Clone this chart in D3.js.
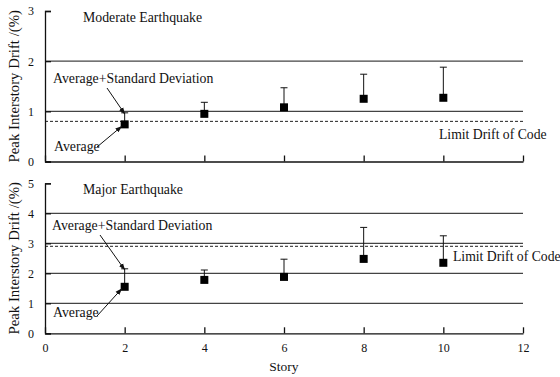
<!DOCTYPE html>
<html>
<head>
<meta charset="utf-8">
<script src="https://cdn.jsdelivr.net/npm/d3@7"></script>
<style>
  body { margin: 0; background: #fff; }
</style>
</head>
<body>
<div id="chart"></div>
<script>
// Data
const stories = [2, 4, 6, 8, 10];
const xTicks = [0, 2, 4, 6, 8, 10, 12];

const moderateAvg = [0.74, 0.95, 1.08, 1.25, 1.27];
const moderateAvgSd = [0.97, 1.18, 1.47, 1.74, 1.88];
const moderateLimit = 0.8;

const majorAvg = [1.55, 1.78, 1.88, 2.48, 2.35];
const majorAvgSd = [2.15, 2.11, 2.47, 3.53, 3.25];
const majorLimit = 2.9;

const W = 560, H = 377;
const SERIF = "'Liberation Serif', 'Times New Roman', 'DejaVu Serif', serif";

const svg = d3.select("#chart").append("svg")
    .attr("width", W)
    .attr("height", H)
    .style("font-family", SERIF);

svg.append("defs").append("marker")
    .attr("id", "arrow")
    .attr("viewBox", "0 0 10 10")
    .attr("refX", 9).attr("refY", 5)
    .attr("markerWidth", 7).attr("markerHeight", 7)
    .attr("orient", "auto")
    .append("path")
    .attr("d", "M0,1.5 L10,5 L0,8.5 Z")
    .attr("fill", "#111");

// Shared x scale
const x = d3.scaleLinear().domain([0, 12]).range([45, 523]);

const panels = [
  {title: "Moderate Earthquake", avg: moderateAvg, sd: moderateAvgSd, limit: moderateLimit,
   yMax: 3, top: 11, bottom: 161.5, xLabels: false,
   sdText: [53, 83], avgText: [54, 151], limitText: [439, 139],
   sdArrowFrom: [107, 88], avgArrowFrom: [97, 147]},
  {title: "Major Earthquake", avg: majorAvg, sd: majorAvgSd, limit: majorLimit,
   yMax: 5, top: 183.3, bottom: 333.3, xLabels: true,
   sdText: [52, 230], avgText: [53, 317], limitText: [453, 261],
   sdArrowFrom: [100, 235], avgArrowFrom: [97, 316]}
];

function txt(g, xx, yy, s, size) {
  return g.append("text")
    .attr("x", xx).attr("y", yy)
    .style("font-family", SERIF)
    .style("font-size", size)
    .attr("fill", "#111")
    .text(s);
}

panels.forEach(p => {
  const y = d3.scaleLinear().domain([0, p.yMax]).range([p.bottom, p.top]);
  const g = svg.append("g");

  // Horizontal grid lines
  g.selectAll("line.grid")
    .data(d3.range(1, p.yMax))
    .enter().append("line")
    .attr("x1", x(0)).attr("x2", x(12))
    .attr("y1", d => y(d)).attr("y2", d => y(d))
    .attr("stroke", "#444")
    .attr("stroke-width", 1.3);

  // Code drift limit (dashed)
  g.append("line")
    .attr("x1", x(0)).attr("x2", x(12))
    .attr("y1", y(p.limit)).attr("y2", y(p.limit))
    .attr("stroke", "#222")
    .attr("stroke-width", 1)
    .attr("stroke-dasharray", "3,2");

  // Y axis (ticks inward)
  const yAxis = g.append("g")
    .attr("transform", `translate(${x(0)},0)`)
    .call(d3.axisLeft(y).ticks(p.yMax).tickSize(-6).tickPadding(11).tickFormat(d3.format("d")));
  yAxis.attr("font-family", null);
  yAxis.select(".domain").attr("stroke", "#111").attr("stroke-width", 1.3);
  yAxis.selectAll(".tick line").attr("stroke", "#111").attr("stroke-width", 1.3);
  yAxis.selectAll("text").style("font-size", "12px").style("font-family", SERIF).attr("fill", "#111");

  // X axis (ticks inward)
  const xAxis = g.append("g")
    .attr("transform", `translate(0,${y(0)})`)
    .call(d3.axisBottom(x).tickValues(xTicks).tickSize(-6).tickSizeOuter(0).tickPadding(10)
      .tickFormat(p.xLabels ? d3.format("d") : ""));
  xAxis.attr("font-family", null);
  xAxis.select(".domain").attr("stroke", "#111").attr("stroke-width", 1.3);
  xAxis.selectAll(".tick line").attr("stroke", "#111").attr("stroke-width", 1.3);
  xAxis.selectAll("text").style("font-size", "12px").style("font-family", SERIF).attr("fill", "#111");

  // Error bars (average to average + standard deviation)
  stories.forEach((s, i) => {
    g.append("line")
      .attr("x1", x(s)).attr("x2", x(s))
      .attr("y1", y(p.avg[i])).attr("y2", y(p.sd[i]))
      .attr("stroke", "#111").attr("stroke-width", 1);
    g.append("line")
      .attr("x1", x(s) - 3.5).attr("x2", x(s) + 3.5)
      .attr("y1", y(p.sd[i])).attr("y2", y(p.sd[i]))
      .attr("stroke", "#111").attr("stroke-width", 1);
  });

  // Average markers
  g.selectAll("rect.pt")
    .data(stories)
    .enter().append("rect")
    .attr("x", d => x(d) - 4)
    .attr("y", (d, i) => y(p.avg[i]) - 4)
    .attr("width", 8).attr("height", 8)
    .attr("fill", "#000");

  // Panel title
  txt(g, 83, p.top + 11, p.title, "13.8px");

  // Annotations
  txt(g, p.sdText[0], p.sdText[1], "Average+Standard Deviation", "13.8px");
  g.append("line")
    .attr("x1", p.sdArrowFrom[0]).attr("y1", p.sdArrowFrom[1])
    .attr("x2", x(stories[0])).attr("y2", y(p.sd[0]) + 1)
    .attr("stroke", "#111").attr("stroke-width", 1)
    .attr("marker-end", "url(#arrow)");

  txt(g, p.avgText[0], p.avgText[1], "Average", "13.8px");
  g.append("line")
    .attr("x1", p.avgArrowFrom[0]).attr("y1", p.avgArrowFrom[1])
    .attr("x2", x(stories[0]) - 3).attr("y2", y(p.avg[0]) + 2)
    .attr("stroke", "#111").attr("stroke-width", 1)
    .attr("marker-end", "url(#arrow)");

  txt(g, p.limitText[0], p.limitText[1], "Limit Drift of Code", "13.7px");

  // Y-axis label
  txt(g, -(p.top + p.bottom) / 2, 19, "Peak Interstory Drift /(%)", "14.8px")
    .attr("transform", "rotate(-90)")
    .attr("text-anchor", "middle");
});

// X-axis label
txt(svg, (x(0) + x(12)) / 2, 371, "Story", "13.5px")
  .attr("text-anchor", "middle");
</script>
</body>
</html>
